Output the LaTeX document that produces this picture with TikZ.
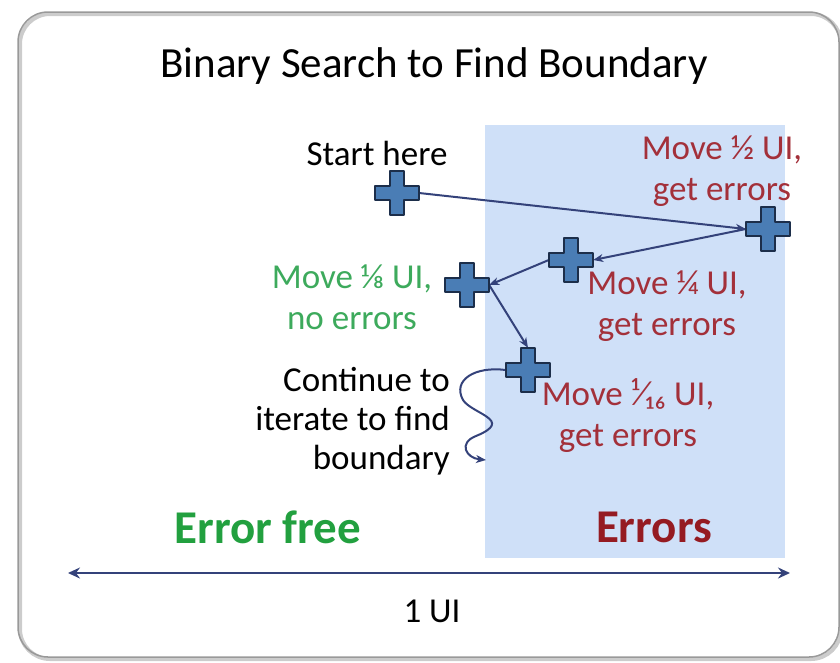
\documentclass[tikz,border=0pt]{standalone}
\usepackage{fontspec}
\setmainfont{Carlito}
\usetikzlibrary{arrows.meta,positioning}
\definecolor{errred}{HTML}{A3303A}
\definecolor{errdark}{HTML}{951B22}
\definecolor{okgreen}{HTML}{3DAA5C}
\definecolor{freegreen}{HTML}{22A03F}
\definecolor{errzone}{HTML}{CFE0F8}
\definecolor{plusfill}{HTML}{4A7DB5}
\definecolor{plusline}{HTML}{1C2E4A}
\definecolor{pathblue}{HTML}{34427A}
\tikzset{
  txt/.style={font=\fontsize{35}{41}\selectfont, align=center, inner sep=0pt},
  big/.style={font=\fontsize{47}{52}\selectfont\bfseries, inner sep=0pt},
  stepmark/.style={minimum size=44pt, inner sep=0pt},
  plus/.style={fill=plusfill, draw=plusline, line width=2pt, line join=round},
  hop/.style={draw=pathblue, line width=2pt, -{Stealth[length=10pt,width=8pt,inset=3pt]}}
}
\begin{document}
\begin{tikzpicture}[x=1pt,y=-1pt]
    \useasboundingbox (0,0) rectangle (840,662);
    \draw[gray!40, line width=4pt, rounded corners=30pt] (20,14) rectangle (841,659);
    \draw[gray!80, line width=1.5pt, rounded corners=30pt] (18,12) rectangle (839,657);
    \fill[errzone] (485,125) rectangle (785,558);

    \node[font=\fontsize{43}{48}\selectfont, inner sep=0pt] (title) at (434,66) {Binary Search to Find Boundary};
    \node[txt] (start) at (377,153) {Start here};
    \node[txt, text=errred] (half) at (722,171) {Move ½ UI,\\get errors};
    \node[txt, text=okgreen] (eighth) at (352,297) {Move ⅛ UI,\\no errors};
    \node[txt, text=errred] (quarter) at (667,306) {Move ¼ UI,\\get errors};
    \node[txt, text=errred] (sixteenth) at (628,416) {Move ¹⁄₁₆ UI,\\get errors};
    \node[txt, align=right, anchor=east, font=\fontsize{35}{39}\selectfont] (cont) at (450,421) {Continue to\\iterate to find\\boundary};
    \node[big, text=freegreen] (free) at (268,527) {Error free};
    \node[big, text=errdark] (errs) at (654,527) {Errors};

    \node[stepmark] (s0) at (397,193) {};
    \node[stepmark] (s1) at (768,229) {};
    \node[stepmark] (s2) at (571,260) {};
    \node[stepmark] (s3) at (467,285) {};
    \node[stepmark] (s4) at (528,370) {};

    \draw[hop] (s0.east) -- (s1.west);
    \draw[hop] (s1.west) -- (s2.east);
    \draw[hop] (s2.west) -- (s3.east);
    \draw[hop] (s3.east) -- (s4.north);
    \draw[hop] (s4.west) .. controls (475,366) and (452,380) .. (463,400) .. controls (472,414) and (515,420) .. (476,436) .. controls (458,443) and (466,458) .. (486,460);

    \foreach \n in {s0,s1,s2,s3,s4} {
        \filldraw[plus] ([shift={(-7,-22)}]\n.center) -- ++(14,0) -- ++(0,15) -- ++(15,0) -- ++(0,14) -- ++(-15,0) -- ++(0,15) -- ++(-14,0) -- ++(0,-15) -- ++(-15,0) -- ++(0,-14) -- ++(15,0) -- cycle;
    }

    \coordinate (uil) at (68,573);
    \coordinate (uir) at (790,573);
    \draw[draw=pathblue, line width=2.4pt, {Stealth[length=12pt,width=11pt,inset=4pt]}-{Stealth[length=12pt,width=11pt,inset=4pt]}] (uil) -- (uir);
    \node[txt, font=\fontsize{35}{40}\selectfont] (ui) at (432,611) {1 UI};
\end{tikzpicture}
\end{document}
